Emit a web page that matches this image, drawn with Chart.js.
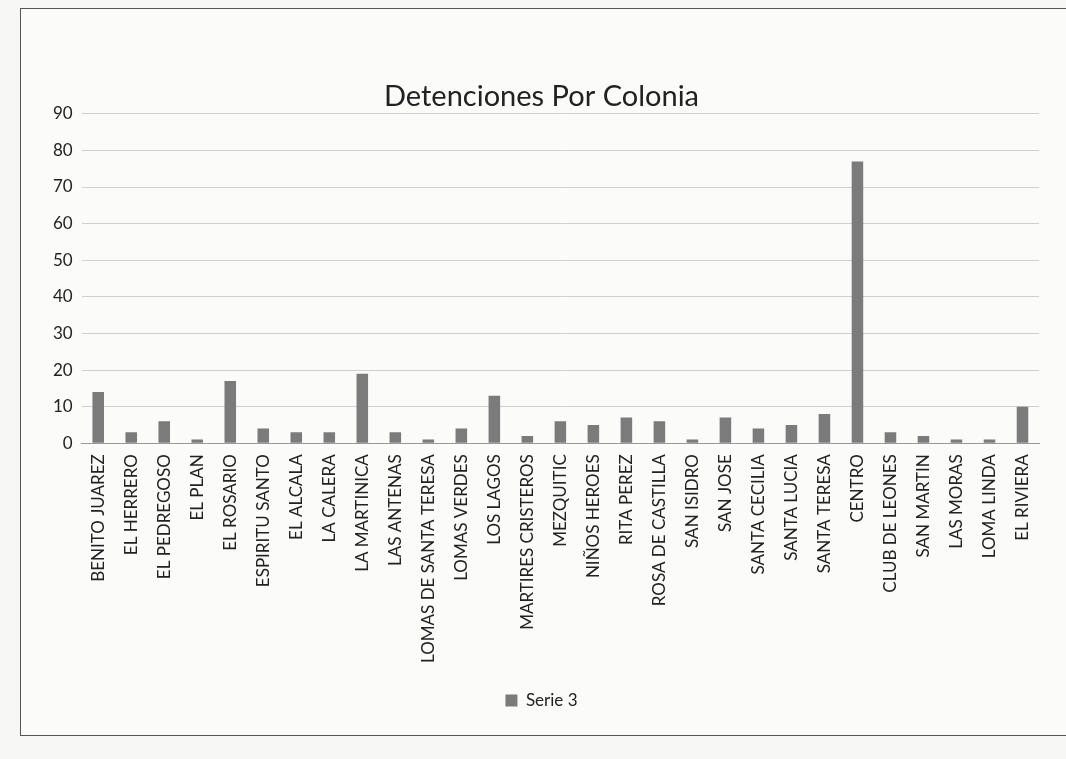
<!DOCTYPE html>
<html>
<head>
<meta charset="utf-8">
<script src="https://cdn.jsdelivr.net/npm/chart.js@4.4.1/dist/chart.umd.min.js"></script>
<style>
  html, body { margin: 0; padding: 0; background: #f7f7f5; width: 1066px; height: 759px; overflow: hidden; }
  #frame { position: absolute; left: 20px; top: 8px; width: 1060px; height: 726px; border: 1px solid #555; background: #fbfbfa; }
  #c { display: block; }
</style>
</head>
<body>
<div id="frame"><canvas id="c" width="1060" height="726"></canvas></div>
<script>
const categories = ["BENITO JUAREZ","EL HERRERO","EL PEDREGOSO","EL PLAN","EL ROSARIO","ESPIRITU SANTO","EL ALCALA","LA CALERA","LA MARTINICA","LAS ANTENAS","LOMAS DE SANTA TERESA","LOMAS VERDES","LOS LAGOS","MARTIRES CRISTEROS","MEZQUITIC","NIÑOS HEROES","RITA PEREZ","ROSA DE CASTILLA","SAN ISIDRO","SAN JOSE","SANTA CECILIA","SANTA LUCIA","SANTA TERESA","CENTRO","CLUB DE LEONES","SAN MARTIN","LAS MORAS","LOMA LINDA","EL RIVIERA"];
const serie3 = [14,3,6,1,17,4,3,3,19,3,1,4,13,2,6,5,7,6,1,7,4,5,8,77,3,2,1,1,10];
const yTicks = [0,10,20,30,40,50,60,70,80,90];

new Chart(document.getElementById('c'), {
  type: 'bar',
  data: {
    labels: categories,
    datasets: [{
      label: 'Serie 3',
      data: serie3,
      backgroundColor: '#7b7b7b',
      borderWidth: 0,
      barPercentage: 0.35,
      categoryPercentage: 1.0
    }]
  },
  options: {
    responsive: false,
    animation: false,
    layout: { padding: { left: 23, right: 42, top: 0, bottom: 16 } },
    plugins: {
      title: {
        display: true,
        text: 'Detenciones Por Colonia',
        color: '#222',
        font: { family: 'Lato', size: 29, weight: 'normal' },
        padding: { top: 70, bottom: 0 }
      },
      legend: {
        position: 'bottom',
        labels: {
          color: '#222',
          font: { family: 'Lato', size: 17 },
          boxWidth: 12, boxHeight: 12, padding: 10
        }
      },
      tooltip: { enabled: false }
    },
    scales: {
      x: {
        grid: { display: false },
        border: { color: '#999' },
        afterFit: (scale) => { scale.height += 16; },
        ticks: {
          color: '#222',
          font: { family: 'Lato', size: 17 },
          maxRotation: 90, minRotation: 90,
          autoSkip: false
        }
      },
      y: {
        min: 0, max: 90,
        afterBuildTicks: (axis) => { axis.ticks = yTicks.map(v => ({ value: v })); },
        grid: { color: '#cfcfcf', drawTicks: false },
        border: { display: false },
        ticks: {
          color: '#222',
          font: { family: 'Lato', size: 17 },
          padding: 9
        }
      }
    }
  }
});
</script>
</body>
</html>
